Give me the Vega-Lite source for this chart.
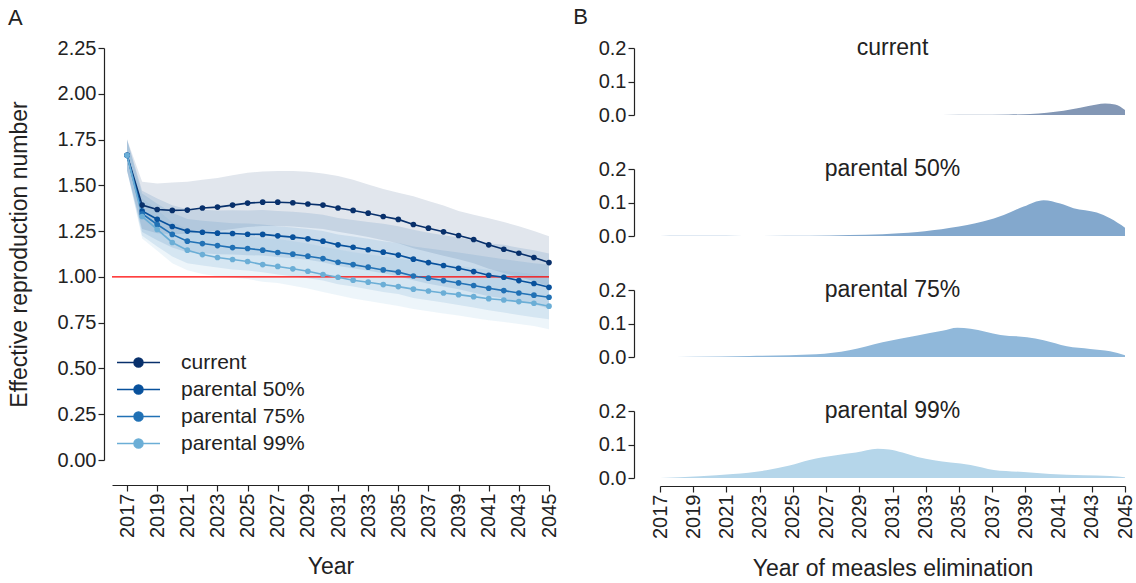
{
  "$schema": "https://vega.github.io/schema/vega-lite/v6.json",
  "padding": {"left": 8, "top": 6, "right": 0, "bottom": 0},
  "config": {
    "view": {"stroke": null},
    "font": "Liberation Sans",
    "axis": {"grid": false, "domainColor": "#222", "tickColor": "#222", "labelColor": "#222", "titleColor": "#222", "labelFontSize": 20, "titleFontSize": 23, "titleFontWeight": "normal", "tickSize": 6, "domainWidth": 1.2, "tickWidth": 1.2, "labelPadding": 2, "labelOverlap": false},
    "title": {"fontSize": 23, "fontWeight": "normal", "color": "#222"},
    "legend": {"labelFontSize": 21, "labelColor": "#222"}
  },
  "datasets": {
    "rt": [
      {"s":"current","year":2017,"r":1.664,"lo":1.58,"hi":1.75},
      {"s":"current","year":2018,"r":1.392,"lo":1.262,"hi":1.52},
      {"s":"current","year":2019,"r":1.368,"lo":1.238,"hi":1.51},
      {"s":"current","year":2020,"r":1.363,"lo":1.233,"hi":1.515},
      {"s":"current","year":2021,"r":1.365,"lo":1.235,"hi":1.52},
      {"s":"current","year":2022,"r":1.376,"lo":1.246,"hi":1.53},
      {"s":"current","year":2023,"r":1.381,"lo":1.251,"hi":1.54},
      {"s":"current","year":2024,"r":1.392,"lo":1.262,"hi":1.555},
      {"s":"current","year":2025,"r":1.403,"lo":1.273,"hi":1.569},
      {"s":"current","year":2026,"r":1.408,"lo":1.278,"hi":1.575},
      {"s":"current","year":2027,"r":1.408,"lo":1.278,"hi":1.578},
      {"s":"current","year":2028,"r":1.405,"lo":1.275,"hi":1.578},
      {"s":"current","year":2029,"r":1.398,"lo":1.268,"hi":1.574},
      {"s":"current","year":2030,"r":1.392,"lo":1.262,"hi":1.565},
      {"s":"current","year":2031,"r":1.376,"lo":1.246,"hi":1.551},
      {"s":"current","year":2032,"r":1.363,"lo":1.233,"hi":1.53},
      {"s":"current","year":2033,"r":1.348,"lo":1.218,"hi":1.505},
      {"s":"current","year":2034,"r":1.33,"lo":1.2,"hi":1.48},
      {"s":"current","year":2035,"r":1.314,"lo":1.184,"hi":1.46},
      {"s":"current","year":2036,"r":1.286,"lo":1.156,"hi":1.44},
      {"s":"current","year":2037,"r":1.266,"lo":1.136,"hi":1.414},
      {"s":"current","year":2038,"r":1.246,"lo":1.116,"hi":1.39},
      {"s":"current","year":2039,"r":1.226,"lo":1.096,"hi":1.36},
      {"s":"current","year":2040,"r":1.204,"lo":1.074,"hi":1.34},
      {"s":"current","year":2041,"r":1.175,"lo":1.045,"hi":1.32},
      {"s":"current","year":2042,"r":1.151,"lo":1.021,"hi":1.3},
      {"s":"current","year":2043,"r":1.129,"lo":0.999,"hi":1.277},
      {"s":"current","year":2044,"r":1.106,"lo":0.976,"hi":1.25},
      {"s":"current","year":2045,"r":1.078,"lo":0.948,"hi":1.222},
      {"s":"parental 50%","year":2017,"r":1.664,"lo":1.58,"hi":1.75},
      {"s":"parental 50%","year":2018,"r":1.36,"lo":1.245,"hi":1.47},
      {"s":"parental 50%","year":2019,"r":1.315,"lo":1.2,"hi":1.428},
      {"s":"parental 50%","year":2020,"r":1.275,"lo":1.16,"hi":1.391},
      {"s":"parental 50%","year":2021,"r":1.25,"lo":1.135,"hi":1.369},
      {"s":"parental 50%","year":2022,"r":1.244,"lo":1.129,"hi":1.366},
      {"s":"parental 50%","year":2023,"r":1.239,"lo":1.124,"hi":1.363},
      {"s":"parental 50%","year":2024,"r":1.237,"lo":1.122,"hi":1.364},
      {"s":"parental 50%","year":2025,"r":1.233,"lo":1.118,"hi":1.363},
      {"s":"parental 50%","year":2026,"r":1.232,"lo":1.117,"hi":1.365},
      {"s":"parental 50%","year":2027,"r":1.224,"lo":1.109,"hi":1.36},
      {"s":"parental 50%","year":2028,"r":1.217,"lo":1.102,"hi":1.356},
      {"s":"parental 50%","year":2029,"r":1.208,"lo":1.093,"hi":1.349},
      {"s":"parental 50%","year":2030,"r":1.195,"lo":1.08,"hi":1.339},
      {"s":"parental 50%","year":2031,"r":1.175,"lo":1.06,"hi":1.322},
      {"s":"parental 50%","year":2032,"r":1.162,"lo":1.047,"hi":1.311},
      {"s":"parental 50%","year":2033,"r":1.148,"lo":1.033,"hi":1.3},
      {"s":"parental 50%","year":2034,"r":1.135,"lo":1.02,"hi":1.29},
      {"s":"parental 50%","year":2035,"r":1.119,"lo":1.004,"hi":1.277},
      {"s":"parental 50%","year":2036,"r":1.097,"lo":0.982,"hi":1.257},
      {"s":"parental 50%","year":2037,"r":1.078,"lo":0.963,"hi":1.241},
      {"s":"parental 50%","year":2038,"r":1.062,"lo":0.947,"hi":1.228},
      {"s":"parental 50%","year":2039,"r":1.047,"lo":0.932,"hi":1.215},
      {"s":"parental 50%","year":2040,"r":1.029,"lo":0.914,"hi":1.2},
      {"s":"parental 50%","year":2041,"r":1.009,"lo":0.894,"hi":1.183},
      {"s":"parental 50%","year":2042,"r":0.998,"lo":0.883,"hi":1.175},
      {"s":"parental 50%","year":2043,"r":0.98,"lo":0.865,"hi":1.159},
      {"s":"parental 50%","year":2044,"r":0.964,"lo":0.849,"hi":1.146},
      {"s":"parental 50%","year":2045,"r":0.943,"lo":0.828,"hi":1.128},
      {"s":"parental 75%","year":2017,"r":1.664,"lo":1.58,"hi":1.75},
      {"s":"parental 75%","year":2018,"r":1.345,"lo":1.225,"hi":1.455},
      {"s":"parental 75%","year":2019,"r":1.286,"lo":1.166,"hi":1.4},
      {"s":"parental 75%","year":2020,"r":1.232,"lo":1.112,"hi":1.35},
      {"s":"parental 75%","year":2021,"r":1.195,"lo":1.075,"hi":1.316},
      {"s":"parental 75%","year":2022,"r":1.182,"lo":1.062,"hi":1.307},
      {"s":"parental 75%","year":2023,"r":1.171,"lo":1.051,"hi":1.3},
      {"s":"parental 75%","year":2024,"r":1.16,"lo":1.04,"hi":1.293},
      {"s":"parental 75%","year":2025,"r":1.155,"lo":1.035,"hi":1.292},
      {"s":"parental 75%","year":2026,"r":1.146,"lo":1.026,"hi":1.286},
      {"s":"parental 75%","year":2027,"r":1.133,"lo":1.013,"hi":1.277},
      {"s":"parental 75%","year":2028,"r":1.124,"lo":1.004,"hi":1.27},
      {"s":"parental 75%","year":2029,"r":1.113,"lo":0.993,"hi":1.261},
      {"s":"parental 75%","year":2030,"r":1.1,"lo":0.98,"hi":1.25},
      {"s":"parental 75%","year":2031,"r":1.08,"lo":0.96,"hi":1.231},
      {"s":"parental 75%","year":2032,"r":1.067,"lo":0.947,"hi":1.22},
      {"s":"parental 75%","year":2033,"r":1.053,"lo":0.933,"hi":1.208},
      {"s":"parental 75%","year":2034,"r":1.038,"lo":0.918,"hi":1.195},
      {"s":"parental 75%","year":2035,"r":1.026,"lo":0.906,"hi":1.185},
      {"s":"parental 75%","year":2036,"r":1.005,"lo":0.885,"hi":1.166},
      {"s":"parental 75%","year":2037,"r":0.993,"lo":0.873,"hi":1.155},
      {"s":"parental 75%","year":2038,"r":0.98,"lo":0.86,"hi":1.144},
      {"s":"parental 75%","year":2039,"r":0.967,"lo":0.847,"hi":1.133},
      {"s":"parental 75%","year":2040,"r":0.953,"lo":0.833,"hi":1.121},
      {"s":"parental 75%","year":2041,"r":0.938,"lo":0.818,"hi":1.108},
      {"s":"parental 75%","year":2042,"r":0.925,"lo":0.805,"hi":1.097},
      {"s":"parental 75%","year":2043,"r":0.912,"lo":0.792,"hi":1.085},
      {"s":"parental 75%","year":2044,"r":0.9,"lo":0.78,"hi":1.075},
      {"s":"parental 75%","year":2045,"r":0.889,"lo":0.769,"hi":1.066},
      {"s":"parental 99%","year":2017,"r":1.664,"lo":1.58,"hi":1.75},
      {"s":"parental 99%","year":2018,"r":1.33,"lo":1.21,"hi":1.43},
      {"s":"parental 99%","year":2019,"r":1.259,"lo":1.143,"hi":1.365},
      {"s":"parental 99%","year":2020,"r":1.188,"lo":1.075,"hi":1.299},
      {"s":"parental 99%","year":2021,"r":1.146,"lo":1.036,"hi":1.263},
      {"s":"parental 99%","year":2022,"r":1.122,"lo":1.016,"hi":1.244},
      {"s":"parental 99%","year":2023,"r":1.106,"lo":1.003,"hi":1.234},
      {"s":"parental 99%","year":2024,"r":1.095,"lo":0.995,"hi":1.228},
      {"s":"parental 99%","year":2025,"r":1.084,"lo":0.988,"hi":1.223},
      {"s":"parental 99%","year":2026,"r":1.067,"lo":0.974,"hi":1.211},
      {"s":"parental 99%","year":2027,"r":1.057,"lo":0.967,"hi":1.207},
      {"s":"parental 99%","year":2028,"r":1.044,"lo":0.952,"hi":1.195},
      {"s":"parental 99%","year":2029,"r":1.031,"lo":0.937,"hi":1.182},
      {"s":"parental 99%","year":2030,"r":1.013,"lo":0.917,"hi":1.165},
      {"s":"parental 99%","year":2031,"r":0.998,"lo":0.9,"hi":1.15},
      {"s":"parental 99%","year":2032,"r":0.982,"lo":0.882,"hi":1.135},
      {"s":"parental 99%","year":2033,"r":0.971,"lo":0.869,"hi":1.124},
      {"s":"parental 99%","year":2034,"r":0.958,"lo":0.854,"hi":1.112},
      {"s":"parental 99%","year":2035,"r":0.947,"lo":0.841,"hi":1.101},
      {"s":"parental 99%","year":2036,"r":0.933,"lo":0.825,"hi":1.088},
      {"s":"parental 99%","year":2037,"r":0.923,"lo":0.813,"hi":1.079},
      {"s":"parental 99%","year":2038,"r":0.912,"lo":0.8,"hi":1.068},
      {"s":"parental 99%","year":2039,"r":0.903,"lo":0.789,"hi":1.06},
      {"s":"parental 99%","year":2040,"r":0.892,"lo":0.776,"hi":1.049},
      {"s":"parental 99%","year":2041,"r":0.881,"lo":0.763,"hi":1.039},
      {"s":"parental 99%","year":2042,"r":0.874,"lo":0.754,"hi":1.032},
      {"s":"parental 99%","year":2043,"r":0.865,"lo":0.743,"hi":1.024},
      {"s":"parental 99%","year":2044,"r":0.856,"lo":0.732,"hi":1.015},
      {"s":"parental 99%","year":2045,"r":0.84,"lo":0.714,"hi":1.0}
    ],
    "dens": [
      {"s":"current","year":2017,"d":0},
      {"s":"current","year":2030,"d":0},
      {"s":"current","year":2034,"d":0.0003},
      {"s":"current","year":2036,"d":0.0008},
      {"s":"current","year":2038,"d":0.0015},
      {"s":"current","year":2039.3,"d":0.003},
      {"s":"current","year":2040.3,"d":0.007},
      {"s":"current","year":2041.3,"d":0.013},
      {"s":"current","year":2042.3,"d":0.022},
      {"s":"current","year":2043.3,"d":0.031},
      {"s":"current","year":2043.8,"d":0.034},
      {"s":"current","year":2044.4,"d":0.031},
      {"s":"current","year":2045,"d":0.015},
      {"s":"parental 50%","year":2017,"d":0},
      {"s":"parental 50%","year":2018.2,"d":0.001},
      {"s":"parental 50%","year":2020,"d":0.0008},
      {"s":"parental 50%","year":2022,"d":0.0003},
      {"s":"parental 50%","year":2026,"d":0.0005},
      {"s":"parental 50%","year":2028.4,"d":0.003},
      {"s":"parental 50%","year":2030.4,"d":0.005},
      {"s":"parental 50%","year":2031.4,"d":0.008},
      {"s":"parental 50%","year":2032.5,"d":0.012},
      {"s":"parental 50%","year":2033.4,"d":0.017},
      {"s":"parental 50%","year":2034.5,"d":0.025},
      {"s":"parental 50%","year":2035.5,"d":0.033},
      {"s":"parental 50%","year":2036.5,"d":0.044},
      {"s":"parental 50%","year":2037.7,"d":0.063},
      {"s":"parental 50%","year":2038.9,"d":0.088},
      {"s":"parental 50%","year":2040.1,"d":0.107},
      {"s":"parental 50%","year":2041.1,"d":0.097},
      {"s":"parental 50%","year":2041.9,"d":0.083},
      {"s":"parental 50%","year":2043.3,"d":0.07},
      {"s":"parental 50%","year":2044.1,"d":0.053},
      {"s":"parental 50%","year":2045,"d":0.025},
      {"s":"parental 75%","year":2017,"d":0},
      {"s":"parental 75%","year":2019,"d":0.001},
      {"s":"parental 75%","year":2022.4,"d":0.003},
      {"s":"parental 75%","year":2026.4,"d":0.008},
      {"s":"parental 75%","year":2028.4,"d":0.02},
      {"s":"parental 75%","year":2030.4,"d":0.044},
      {"s":"parental 75%","year":2032.5,"d":0.064},
      {"s":"parental 75%","year":2034,"d":0.078},
      {"s":"parental 75%","year":2034.9,"d":0.087},
      {"s":"parental 75%","year":2035.7,"d":0.084},
      {"s":"parental 75%","year":2037.5,"d":0.066},
      {"s":"parental 75%","year":2039.1,"d":0.059},
      {"s":"parental 75%","year":2040.1,"d":0.05},
      {"s":"parental 75%","year":2041.5,"d":0.032},
      {"s":"parental 75%","year":2042.9,"d":0.024},
      {"s":"parental 75%","year":2044.1,"d":0.017},
      {"s":"parental 75%","year":2045,"d":0.005},
      {"s":"parental 99%","year":2017,"d":0},
      {"s":"parental 99%","year":2019.4,"d":0.005},
      {"s":"parental 99%","year":2021.4,"d":0.012},
      {"s":"parental 99%","year":2023.4,"d":0.023},
      {"s":"parental 99%","year":2024.8,"d":0.037},
      {"s":"parental 99%","year":2026,"d":0.054},
      {"s":"parental 99%","year":2027.6,"d":0.068},
      {"s":"parental 99%","year":2028.8,"d":0.076},
      {"s":"parental 99%","year":2030.1,"d":0.087},
      {"s":"parental 99%","year":2030.8,"d":0.085},
      {"s":"parental 99%","year":2031.6,"d":0.076},
      {"s":"parental 99%","year":2032.5,"d":0.063},
      {"s":"parental 99%","year":2034.5,"d":0.046},
      {"s":"parental 99%","year":2035.7,"d":0.039},
      {"s":"parental 99%","year":2037.1,"d":0.024},
      {"s":"parental 99%","year":2038.9,"d":0.018},
      {"s":"parental 99%","year":2040.5,"d":0.012},
      {"s":"parental 99%","year":2042.5,"d":0.008},
      {"s":"parental 99%","year":2044.1,"d":0.006},
      {"s":"parental 99%","year":2045,"d":0.002}
    ]
  },
  "hconcat": [
    {
      "title": {"text": "A", "anchor": "start", "frame": "bounds", "fontSize": 22, "offset": 8},
      "width": 437,
      "height": 412,
      "layer": [
        {
          "data": {"name": "rt"},
          "mark": {"type": "area", "fillOpacity": 0.12},
          "encoding": {
            "x": {"field": "year", "type": "quantitative", "scale": {"domain": [2016, 2045], "nice": false, "zero": false},
              "axis": {"values": [2017,2019,2021,2023,2025,2027,2029,2031,2033,2035,2037,2039,2041,2043,2045], "format": "d", "labelAngle": -90, "labelOverlap": false, "labelSeparation": 0, "labelBound": false, "title": "Year", "offset": 25, "titlePadding": 18}},
            "y": {"field": "lo", "type": "quantitative", "scale": {"domain": [0, 2.25], "nice": false},
              "axis": {"values": [0,0.25,0.5,0.75,1,1.25,1.5,1.75,2,2.25], "format": ".2f", "title": "Effective reproduction number", "offset": 8, "titlePadding": 26}},
            "y2": {"field": "hi"},
            "color": {"field": "s", "type": "nominal", "scale": {"domain": ["current","parental 50%","parental 75%","parental 99%"], "range": ["#08306b","#08519c","#2171b5","#6baed6"]}}
          }
        },
        {
          "data": {"values": [{"threshold": 1}]},
          "mark": {"type": "rule", "color": "#ff0000", "strokeWidth": 1.3},
          "encoding": {"y": {"field": "threshold", "type": "quantitative"}}
        },
        {
          "data": {"name": "rt"},
          "mark": {"type": "line", "strokeWidth": 1.6, "point": {"filled": true, "size": 32, "opacity": 1}},
          "encoding": {
            "x": {"field": "year", "type": "quantitative",
              "axis": {"values": [2017,2019,2021,2023,2025,2027,2029,2031,2033,2035,2037,2039,2041,2043,2045], "format": "d", "labelAngle": -90, "labelOverlap": false, "labelSeparation": 0, "labelBound": false, "title": "Year", "offset": 25, "titlePadding": 18}},
            "y": {"field": "r", "type": "quantitative"},
            "color": {"field": "s", "type": "nominal",
              "legend": {"title": null, "orient": "none", "legendX": 16, "legendY": 304, "padding": 0, "symbolType": "M-4.3,0H4.3M-0.9,0A0.9,0.9 0 1 1 0.9,0A0.9,0.9 0 1 1 -0.9,0Z", "symbolSize": 100, "symbolStrokeWidth": 1.5, "labelOffset": 32, "rowPadding": 5,
                "encode": {"symbols": {"update": {"fill": {"scale": "color", "field": "value"}, "stroke": {"scale": "color", "field": "value"}, "opacity": {"value": 1}, "fillOpacity": {"value": 1}, "strokeOpacity": {"value": 1}}}}}}
          }
        }
      ]
    },
    {
      "title": {"text": "B", "anchor": "start", "frame": "bounds", "fontSize": 22, "dx": -25, "offset": 8},
      "spacing": 33,
      "vconcat": [
        {
          "width": 465, "height": 67,
          "title": {"text": "current", "offset": -22},
          "data": {"name": "dens"},
          "transform": [{"filter": "datum.s == 'current'"}],
          "mark": {"type": "area", "interpolate": "monotone", "color": "#8397b5"},
          "encoding": {
            "x": {"field": "year", "type": "quantitative", "scale": {"domain": [2017, 2045], "nice": false, "zero": false}, "axis": null},
            "y": {"field": "d", "type": "quantitative", "scale": {"domain": [0, 0.2], "nice": false}, "axis": {"values": [0, 0.1, 0.2], "format": ".1f", "title": null, "offset": 26}}
          }
        },
        {
          "width": 465, "height": 67,
          "title": {"text": "parental 50%", "offset": -22},
          "data": {"name": "dens"},
          "transform": [{"filter": "datum.s == 'parental 50%'"}],
          "mark": {"type": "area", "interpolate": "monotone", "color": "#83a8cd"},
          "encoding": {
            "x": {"field": "year", "type": "quantitative", "scale": {"domain": [2017, 2045], "nice": false, "zero": false}, "axis": null},
            "y": {"field": "d", "type": "quantitative", "scale": {"domain": [0, 0.2], "nice": false}, "axis": {"values": [0, 0.1, 0.2], "format": ".1f", "title": null, "offset": 26}}
          }
        },
        {
          "width": 465, "height": 67,
          "title": {"text": "parental 75%", "offset": -22},
          "data": {"name": "dens"},
          "transform": [{"filter": "datum.s == 'parental 75%'"}],
          "mark": {"type": "area", "interpolate": "monotone", "color": "#90b8da"},
          "encoding": {
            "x": {"field": "year", "type": "quantitative", "scale": {"domain": [2017, 2045], "nice": false, "zero": false}, "axis": null},
            "y": {"field": "d", "type": "quantitative", "scale": {"domain": [0, 0.2], "nice": false}, "axis": {"values": [0, 0.1, 0.2], "format": ".1f", "title": null, "offset": 26}}
          }
        },
        {
          "width": 465, "height": 67,
          "title": {"text": "parental 99%", "offset": -22},
          "data": {"name": "dens"},
          "transform": [{"filter": "datum.s == 'parental 99%'"}],
          "mark": {"type": "area", "interpolate": "monotone", "color": "#b5d6ea"},
          "encoding": {
            "x": {"field": "year", "type": "quantitative", "scale": {"domain": [2017, 2045], "nice": false, "zero": false},
              "axis": {"values": [2017,2019,2021,2023,2025,2027,2029,2031,2033,2035,2037,2039,2041,2043,2045], "format": "d", "labelAngle": -90, "labelOverlap": false, "labelSeparation": 0, "labelBound": false, "title": "Year of measles elimination", "offset": 8, "titlePadding": 19}},
            "y": {"field": "d", "type": "quantitative", "scale": {"domain": [0, 0.2], "nice": false}, "axis": {"values": [0, 0.1, 0.2], "format": ".1f", "title": null, "offset": 26}}
          }
        }
      ]
    }
  ],
  "spacing": 14
}
